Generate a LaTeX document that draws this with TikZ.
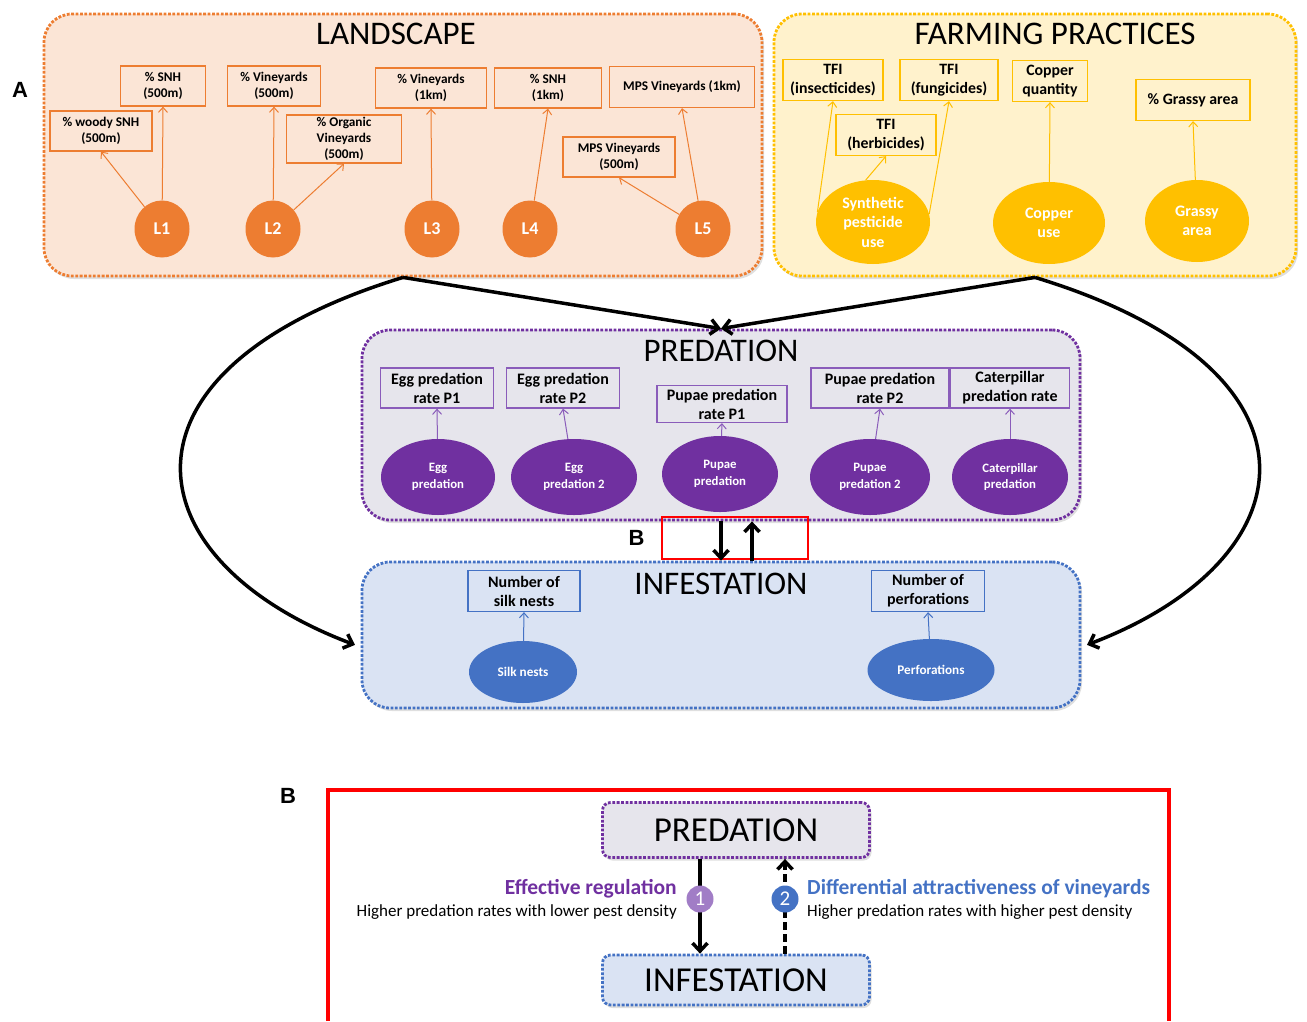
\documentclass[tikz,border=0pt]{standalone}
\usepackage{fontspec}
\setmainfont{Carlito}
\newfontfamily\letterfont{Liberation Sans}
\usetikzlibrary{arrows.meta,positioning,shapes.geometric,shadows}
\definecolor{lsorange}{HTML}{ED7D31}
\definecolor{lsfill}{HTML}{FBE5D6}
\definecolor{fpgold}{HTML}{FFC000}
\definecolor{fpfill}{HTML}{FFF2CC}
\definecolor{prpurple}{HTML}{7030A0}
\definecolor{prline}{HTML}{8A5CBA}
\definecolor{prfill}{HTML}{E6E5EC}
\definecolor{inblue}{HTML}{4472C4}
\definecolor{infill}{HTML}{DAE3F3}
\definecolor{onelilac}{HTML}{A17DC6}
\tikzstyle{panel}=[rectangle,rounded corners=28pt,line width=2.8pt,dash pattern=on 2.8pt off 1.6pt,drop shadow={opacity=0.25,shadow xshift=2pt,shadow yshift=-3pt}]
\tikzstyle{title}=[inner sep=0pt,font=\fontsize{33}{36}\selectfont]
\tikzstyle{var}=[rectangle,draw,line width=1.3pt,align=center,inner sep=0pt,minimum height=40pt]
\tikzstyle{lsbox}=[var,draw=lsorange,font=\bfseries\fontsize{13.3}{16}\selectfont]
\tikzstyle{fpbox}=[var,draw=fpgold,minimum height=41pt,font=\bfseries\fontsize{15.8}{19}\selectfont]
\tikzstyle{prbox}=[var,draw=prline,font=\bfseries\fontsize{16}{19}\selectfont]
\tikzstyle{inbox}=[var,draw=inblue,minimum height=41pt,font=\bfseries\fontsize{16}{19}\selectfont]
\tikzstyle{factor}=[ellipse,inner sep=0pt,align=center,text=white]
\tikzstyle{lsfactor}=[factor,fill=lsorange,minimum width=55pt,minimum height=57pt,font=\bfseries\fontsize{18}{20}\selectfont]
\tikzstyle{fpfactor}=[factor,fill=fpgold,minimum height=82pt,font=\bfseries\fontsize{16}{19.5}\selectfont]
\tikzstyle{prfactor}=[factor,fill=prpurple,minimum height=76pt,font=\bfseries\fontsize{12.8}{16.5}\selectfont]
\tikzstyle{infactor}=[factor,fill=inblue,minimum height=62pt,font=\bfseries\fontsize{13.2}{15}\selectfont]
\tikzstyle{number}=[circle,text=white,minimum size=27pt,inner sep=0pt,font=\fontsize{21}{21}\selectfont]
\tikzstyle{loads}=[-{Straight Barb[length=5pt,width=9pt]},line width=1pt]
\tikzstyle{drives}=[-{Straight Barb[length=8pt,width=15pt]},line width=3.5pt]
\tikzstyle{letter}=[inner sep=0pt,font=\letterfont\bfseries\fontsize{22}{22}\selectfont]

\begin{document}
\begin{tikzpicture}[x=1pt,y=-1pt]
\useasboundingbox (0,0) rectangle (1307,1021);

% panels
\node (land) [panel,draw=lsorange,fill=lsfill,minimum width=718pt,minimum height=262pt] at (403,145) {};
\node (farm) [panel,draw=fpgold,fill=fpfill,minimum width=522pt,minimum height=262pt] at (1035,145) {};
\node (pred) [panel,draw=prpurple,fill=prfill,minimum width=718pt,minimum height=190pt] at (721,425) {};
\node (inf) [panel,draw=inblue,fill=infill,minimum width=718pt,minimum height=146pt] at (721,635) {};
\node [title,below=10pt of land.north,xshift=-7pt] {LANDSCAPE};
\node [title,below=10pt of farm.north,xshift=20pt] {FARMING PRACTICES};
\node [title,below=11pt of pred.north] {PREDATION};
\node [title,below=12pt of inf.north] {INFESTATION};
\node [letter] at (20,90) {A};

% landscape
\node (woody) [lsbox,minimum width=102pt] at (101,131) {\% woody SNH\\(500m)};
\node (snhfive) [lsbox,minimum width=85pt] at (163,86) {\% SNH\\(500m)};
\node (vinfive) [lsbox,minimum width=93pt] at (274,86) {\% Vineyards\\(500m)};
\node (orgfive) [lsbox,minimum width=115pt,minimum height=48pt] at (344,139) {\% Organic\\Vineyards\\(500m)};
\node (vinkm) [lsbox,minimum width=111pt] at (431,88) {\% Vineyards\\(1km)};
\node (snhkm) [lsbox,minimum width=107pt] at (548,88) {\% SNH\\(1km)};
\node (mpskm) [lsbox,minimum width=145pt,minimum height=41pt] at (682,87) {MPS Vineyards (1km)};
\node (mpsfive) [lsbox,minimum width=112pt] at (619,157) {MPS Vineyards\\(500m)};
\node (lone) [lsfactor] at (162,229) {L1};
\node (ltwo) [lsfactor] at (273,229) {L2};
\node (lthree) [lsfactor] at (432,229) {L3};
\node (lfour) [lsfactor] at (530,229) {L4};
\node (lfive) [lsfactor] at (703,229) {L5};
\draw [loads,lsorange] (lone) -- (woody.south);
\draw [loads,lsorange] (lone) -- (snhfive.south);
\draw [loads,lsorange] (ltwo) -- (vinfive.south);
\draw [loads,lsorange] (ltwo) -- (orgfive.south);
\draw [loads,lsorange] (lthree) -- (vinkm.south);
\draw [loads,lsorange] (lfour) -- (snhkm.south);
\draw [loads,lsorange] (lfive) -- (mpsfive.south);
\draw [loads,lsorange] (lfive) -- (mpskm.south);

% farming practices
\node (tfiins) [fpbox,minimum width=100pt] at (833,80) {TFI\\(insecticides)};
\node (tfifun) [fpbox,minimum width=98pt] at (949,80) {TFI\\(fungicides)};
\node (tfiherb) [fpbox,minimum width=100pt] at (886,135) {TFI\\(herbicides)};
\node (copq) [fpbox,minimum width=75pt] at (1050,81) {Copper\\quantity};
\node (grassq) [fpbox,minimum width=114pt] at (1193,100) {\% Grassy area};
\node (syn) [fpfactor,minimum width=114pt,minimum height=84pt] at (873,222) {Synthetic\\pesticide\\use};
\node (copuse) [fpfactor,minimum width=112pt] at (1049,223) {Copper\\use};
\node (grassuse) [fpfactor,minimum width=104pt] at (1197,221) {Grassy\\area};
\draw [loads,fpgold] (syn.170) -- (tfiins.south);
\draw [loads,fpgold] (syn.100) -- (tfiherb.south);
\draw [loads,fpgold] (syn.8) -- (tfifun.south);
\draw [loads,fpgold] (copuse) -- (copq.south);
\draw [loads,fpgold] (grassuse) -- (grassq.south);

% predation
\node (eggone) [prbox,minimum width=113pt] at (437,388) {Egg predation\\rate P1};
\node (eggtwo) [prbox,minimum width=113pt] at (563,388) {Egg predation\\rate P2};
\node (pupone) [prbox,minimum width=130pt,minimum height=37pt] at (722,404) {Pupae predation\\rate P1};
\node (puptwo) [prbox,minimum width=138pt] at (880,388) {Pupae predation\\rate P2};
\node (catrate) [prbox,minimum width=119pt] at (1010,388) {Caterpillar\\predation rate};
\node (eggp) [prfactor,minimum width=114pt] at (438,477) {Egg\\predation};
\node (eggptwo) [prfactor,minimum width=126pt] at (574,477) {Egg\\predation 2};
\node (pupp) [prfactor,minimum width=116pt] at (720,474) {Pupae\\predation};
\node (upptwo) [prfactor,minimum width=120pt] at (870,477) {Pupae\\predation 2};
\node (catp) [prfactor,minimum width=116pt] at (1010,477) {Caterpillar\\predation};
\draw [loads,prline] (eggp) -- (eggone.south);
\draw [loads,prline] (eggptwo) -- (eggtwo.south);
\draw [loads,prline] (pupp) -- (pupone.south);
\draw [loads,prline] (upptwo) -- (puptwo.south);
\draw [loads,prline] (catp) -- (catrate.south);

% infestation
\node (silkq) [inbox,minimum width=112pt] at (524,591) {Number of\\silk nests};
\node (perfq) [inbox,minimum width=113pt] at (928,591) {Number of\\perforations};
\node (silk) [infactor,minimum width=108pt] at (523,672) {Silk nests};
\node (perf) [infactor,minimum width=127pt] at (931,670) {Perforations};
\draw [loads,inblue] (silk) -- (silkq.south);
\draw [loads,inblue] (perf) -- (perfq.south);

% links between panels
\draw [drives] (land.south) -- (pred.north);
\draw [drives] (farm.south) -- (pred.north);
\draw [drives,shorten >=6pt] (land.south) .. controls (100,370) and (130,560) .. ([yshift=-12pt]inf.west);
\draw [drives,shorten >=6pt] (farm.south) .. controls (1340,370) and (1310,560) .. ([yshift=-12pt]inf.east);
\node (zoombox) [draw=red,line width=2.6pt,minimum width=146pt,minimum height=42pt,inner sep=0pt] at (735,538) {};
\node [letter,left=16pt of zoombox] {B};
\draw [drives] (pred.south) -- (pred.south |- inf.north);
\draw [drives] ([xshift=31pt]inf.north) -- ([xshift=31pt]pred.south);

% panel B
\node [letter] at (288,796) {B};
\draw [red,line width=3.5pt] (328,1021) -- (328,790) -- (1169,790) -- (1169,1021);
\node (bpred) [panel,rounded corners=8pt,draw=prpurple,fill=prfill,minimum width=267pt,minimum height=55pt,font=\fontsize{35}{36}\selectfont] at (736,830) {PREDATION};
\node (binf) [panel,rounded corners=8pt,draw=inblue,fill=infill,minimum width=267pt,minimum height=50pt,font=\fontsize{35}{36}\selectfont] at (736,980) {INFESTATION};
\coordinate (one) at (700,899);
\coordinate (two) at (785,899);
\draw [drives] (bpred.south -| one) -- (binf.north -| one);
\draw [drives,dash pattern=on 8pt off 4pt] (binf.north -| two) -- (bpred.south -| two);
\node [number,fill=onelilac] at (one) {1};
\node [number,fill=inblue] at (two) {2};
\node (effreg) [anchor=east,inner sep=0pt,text=prpurple,font=\bfseries\fontsize{21.5}{23}\selectfont] at (677,889) {Effective regulation};
\node (effdesc) [anchor=east,inner sep=0pt,font=\fontsize{17}{19}\selectfont] at (677,912) {Higher predation rates with lower pest density};
\node (diffatt) [anchor=west,inner sep=0pt,text=inblue,font=\bfseries\fontsize{21.5}{23}\selectfont] at (807,889) {Differential attractiveness of vineyards};
\node (diffdesc) [anchor=west,inner sep=0pt,font=\fontsize{17}{19}\selectfont] at (807,912) {Higher predation rates with higher pest density};

\end{tikzpicture}
\end{document}
